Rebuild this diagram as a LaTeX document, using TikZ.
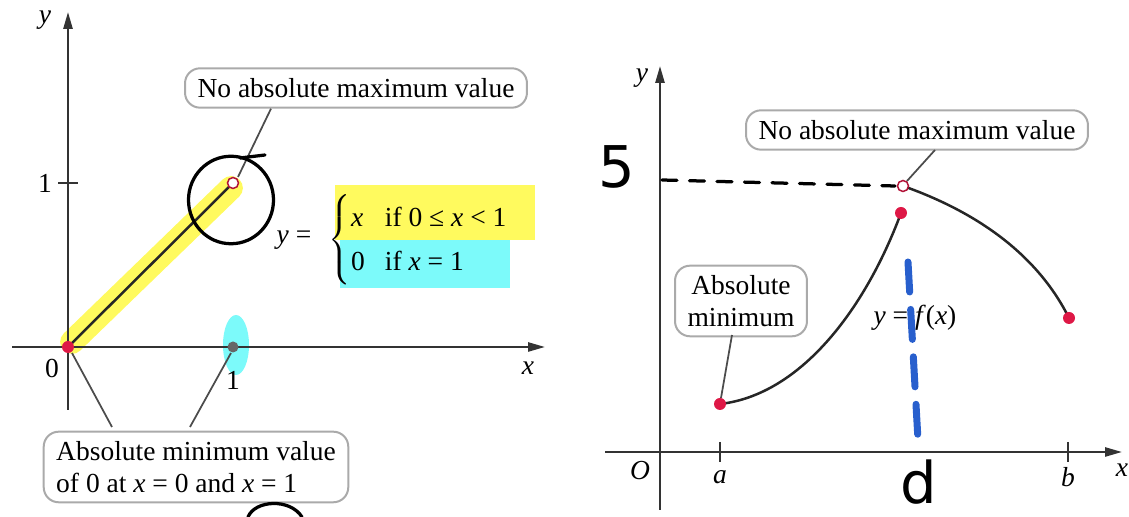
\documentclass[tikz,border=0pt]{standalone}
\usepackage{fontspec}
\setmainfont{Liberation Serif}
\newfontfamily\handfont{DejaVu Sans}
\usetikzlibrary{arrows.meta, calc, positioning}
\definecolor{dotred}{RGB}{222,24,70}
\definecolor{boxgray}{RGB}{170,170,170}
\definecolor{hlyellow}{RGB}{255,248,40}
\definecolor{hlcyan}{RGB}{80,248,248}
\definecolor{penblue}{RGB}{40,95,205}
\tikzset{
	tri/.tip={Triangle[angle=30:7pt]},
	axis/.style={line width=0.9pt, black!80, -tri},
	% label boxes with rounded corners
	labelbox/.style={draw=boxgray, line width=0.8pt, rounded corners=6pt, fill=white,
		align=left, inner xsep=5pt, inner ysep=4pt, font=\fontsize{11}{12.5}\selectfont},
	pointer/.style={line width=0.7pt, black!70},
	lbl/.style={font=\fontsize{11}{12}\selectfont},
	reddot/.style={fill=dotred, draw=none},
	opendot/.style={draw=dotred!80!black, fill=white, line width=0.6pt},
	% pen marks
	pen/.style={line width=1.3pt, black, line cap=round, line join=round},
	handtext/.style={inner sep=0pt, font=\handfont\fontsize{23}{23}\selectfont},
	highlight/.style={opacity=0.75, line cap=round}
}

\begin{document}
\begin{tikzpicture}[x={(0.4pt,0)}, y={(0,-0.4pt)}]
	\useasboundingbox (0,0) rectangle (1129,517);

	% ----- left graph -----
	\coordinate (O1) at (68,347);
	\coordinate (top1) at (233,183);
	\coordinate (one1) at (233,347);

	% highlights
	\draw[highlight, hlyellow, line width=9.5pt] (72,342) -- (231,188);
	\fill[highlight, hlyellow] (335,185) rectangle (535,240);
	\fill[highlight, hlcyan] (340,240) rectangle (510,288);
	\fill[highlight, hlcyan] (236,345) ellipse [x radius=5.2pt, y radius=12pt];

	% Axes
	\draw[axis] (12,347) -- (545,347);
	\draw[axis] (68,410) -- (68,12);
	\draw[line width=0.8pt, black!80] (58,183) -- (78,183);
	\node[lbl, font=\fontsize{11}{12}\itshape] at (45,20) {y};
	\node[lbl, font=\fontsize{11}{12}\itshape] at (528,368) {x};
	\node[lbl] at (52,368) {0};
	\node[lbl] at (45,183) {1};
	\node[lbl] at (233,380) {1};

	\draw[line width=1pt, black!85] (O1) -- (top1);
	\fill[reddot] (O1) circle (2.4pt);
	\fill[black!60] (one1) circle (2.2pt);
	\draw[opendot] (top1) circle (2.2pt);

	% piecewise formula
	\node[lbl] (yeq) at (294,240) {\textit{y} =};
	\node[lbl, right=0pt of yeq] (cases) {\renewcommand{\arraystretch}{1.45}$\left\{\begin{tabular}{@{}l@{\hspace{8pt}}l@{}}\textit{x} & if 0 ≤ \textit{x} < 1\\ 0 & if \textit{x} = 1\end{tabular}\right.$};

	% labels
	\node[labelbox] (noMaxL) at (356,88) {No absolute maximum value};
	\draw[pointer] (noMaxL.south) ++(-85,0) coordinate (noMaxLfoot) -- ($(top1)+(5,-6)$);
	\node[labelbox] (absMinL) at (196,467) {Absolute minimum value\\of 0 at \textit{x} = 0 and \textit{x} = 1};
	\draw[pointer] (112,427) -- ($(O1)+(4,6)$);
	\draw[pointer] (190,427) -- ($(one1)+(-2,6)$);

	% pen marks
	\draw[pen] (231,200) ellipse [x radius=17pt, y radius=17.5pt];
	\draw[pen] (240,158) -- (265,155);
	\draw[pen] (248,517) .. controls (255,500) and (290,498) .. (302,517);

	% ----- right graph -----
	\coordinate (A) at (720,404);
	\coordinate (B) at (901,213);
	\coordinate (C) at (903,186);
	\coordinate (D) at (1069,318);

	% Axes
	\draw[axis] (605,452) -- (1122,452);
	\draw[axis] (660,510) -- (660,66);
	\foreach \t in {720,1068}{\draw[line width=0.8pt, black!80] (\t,442) -- (\t,462);}
	\node[lbl, font=\fontsize{11}{12}\itshape] at (642,78) {y};
	\node[lbl, font=\fontsize{11}{12}\itshape] at (1122,470) {x};
	\node[lbl, font=\fontsize{11}{12}\itshape] at (640,471) {O};
	\node[lbl, font=\fontsize{11}{12}\itshape] at (720,477) {a};
	\node[lbl, font=\fontsize{11}{12}\itshape] at (1068,477) {b};

	\draw[line width=1pt, black!85] (A) .. controls (800,395) and (865,310) .. (B);
	\draw[line width=1pt, black!85] (C) .. controls (985,215) and (1040,260) .. (D);
	\foreach \p in {A, B, D}{\fill[reddot] (\p) circle (2.4pt);}
	\draw[opendot] (C) circle (2.2pt);

	\node[lbl] (curve) at (915,318) {\textit{y} = \textit{f}(\textit{x})};
	\node[labelbox] (noMaxR) at (917,130) {No absolute maximum value};
	\draw[pointer] (935,150) -- ($(C)+(4,-5)$);
	\node[labelbox, align=center] (absMinR) at (741,301) {Absolute\\minimum};
	\draw[pointer] (732,335) -- ($(A)+(1,-6)$);

	% pen marks
	\node[handtext] (five) at (617,167) {5};
	\draw[pen, dash pattern=on 6pt off 5pt] (662,180) -- (895,186);
	\draw[penblue, line width=2.8pt, line cap=round, dash pattern=on 12pt off 7pt] (908,262) -- (918,440);
	\node[handtext] (dee) at (919,482) {d};
\end{tikzpicture}
\end{document}
